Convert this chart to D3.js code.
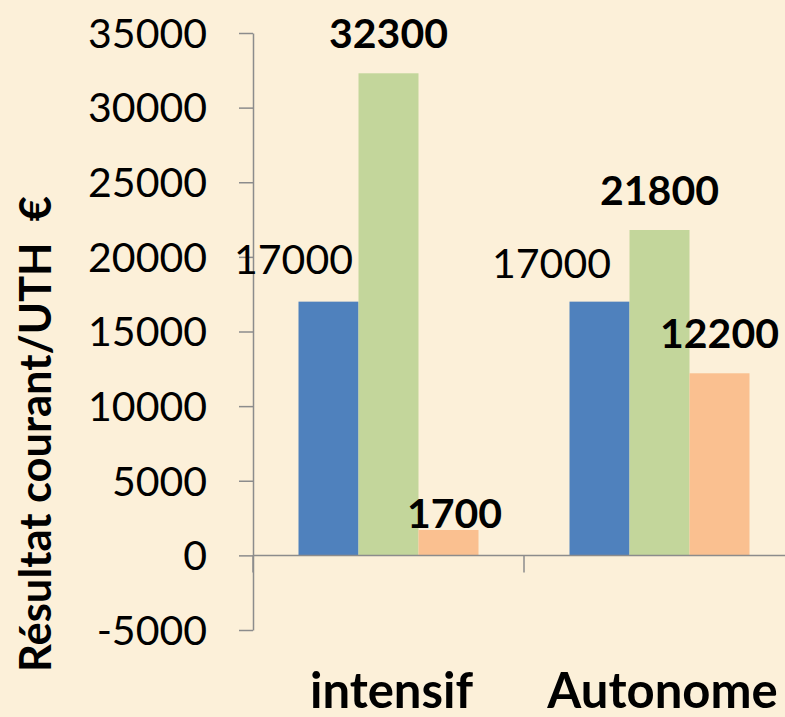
<!DOCTYPE html>
<html>
<head>
<meta charset="utf-8">
<script src="https://cdn.jsdelivr.net/npm/d3@7"></script>
<style>
  html, body { margin: 0; padding: 0; background: #fcf0d8; }
  svg { display: block; font-family: Lato, "Open Sans", sans-serif; }
</style>
</head>
<body>
<svg id="chart" width="785" height="717"></svg>
<script>
// data
var categories = ["intensif", "Autonome"];
var series = ["s1", "s2", "s3"];
var values = [
  [17000, 32300, 1700],   // intensif
  [17000, 21800, 12200]   // Autonome
];
var yTicks = [-5000, 0, 5000, 10000, 15000, 20000, 25000, 30000, 35000];
var yTitle = "Résultat courant/UTH  €";

var colors = ["#4f81bd", "#c3d69b", "#fac090"];
var boldLabel = [false, true, true];

var width = 785, height = 717;
var svg = d3.select("#chart");

svg.append("rect")
  .attr("width", width).attr("height", height)
  .attr("fill", "#fcf0d9");

var y = d3.scaleLinear().domain([-5000, 35000]).range([630, 33]);

// categories are 271px wide, starting at the axis
var x0 = d3.scaleBand().domain(categories).range([253, 795]).padding(0);
var x1 = d3.scaleBand().domain(series)
  .range([0, x0.bandwidth()])
  .paddingInner(0)
  .paddingOuter((x0.bandwidth() / 60 - 3) / 2);

var axisColor = "#8c8c8c";

// y axis
var yAxis = svg.append("g")
  .attr("transform", "translate(253,0)")
  .call(d3.axisLeft(y).tickValues(yTicks).tickSize(14).tickSizeOuter(0).tickPadding(32)
    .tickFormat(function (d) { return String(d); }));
yAxis.selectAll("path, line").attr("stroke", axisColor).attr("stroke-width", 1.5);
yAxis.selectAll("text")
  .attr("font-family", "Lato, sans-serif")
  .attr("font-size", 41)
  .attr("fill", "#000")
  .attr("dy", "0.35em");

// bars
var groups = svg.selectAll("g.cat")
  .data(categories)
  .enter().append("g")
  .attr("class", "cat")
  .attr("transform", function (d) { return "translate(" + x0(d) + ",0)"; });

groups.selectAll("rect")
  .data(function (d, i) { return values[i].map(function (v, j) { return { s: series[j], v: v, j: j }; }); })
  .enter().append("rect")
  .attr("x", function (d) { return x1(d.s); })
  .attr("width", x1.bandwidth())
  .attr("y", function (d) { return y(Math.max(0, d.v)); })
  .attr("height", function (d) { return Math.abs(y(d.v) - y(0)); })
  .attr("fill", function (d) { return colors[d.j]; });

// x axis along zero, ticks between categories
var zeroY = y(0);
svg.append("line")
  .attr("x1", 253).attr("x2", width)
  .attr("y1", zeroY).attr("y2", zeroY)
  .attr("stroke", axisColor).attr("stroke-width", 1.5);
svg.selectAll("line.xtick")
  .data(categories.concat(["end"]))
  .enter().append("line")
  .attr("class", "xtick")
  .attr("x1", function (d, i) { return 253 + i * x0.bandwidth(); })
  .attr("x2", function (d, i) { return 253 + i * x0.bandwidth(); })
  .attr("y1", zeroY).attr("y2", zeroY + 17)
  .attr("stroke", axisColor).attr("stroke-width", 1.5);

// category labels
svg.selectAll("text.cat")
  .data(categories)
  .enter().append("text")
  .attr("class", "cat")
  .attr("x", function (d) { return x0(d) + x0.bandwidth() / 2 + 3; })
  .attr("y", 708)
  .attr("text-anchor", "middle")
  .attr("font-size", 49)
  .attr("font-weight", "bold")
  .text(function (d) { return d; });

// value labels, some were dragged by hand in the original
var labelNudge = {
  "0-0": [-35, -3],
  "1-0": [-48, 1],
  "0-2": [6, 23]
};
categories.forEach(function (c, i) {
  values[i].forEach(function (v, j) {
    var n = labelNudge[i + "-" + j] || [0, 0];
    svg.append("text")
      .attr("x", x0(c) + x1(series[j]) + x1.bandwidth() / 2 + n[0])
      .attr("y", y(v) - 25 + n[1])
      .attr("text-anchor", "middle")
      .attr("font-size", 41)
      .attr("font-weight", boldLabel[j] ? "bold" : "normal")
      .text(v);
  });
});

// y title
svg.append("text")
  .attr("transform", "translate(51,434) rotate(-90)")
  .attr("text-anchor", "middle")
  .attr("font-size", 43.5)
  .attr("font-weight", "bold")
  .style("white-space", "pre")
  .text(yTitle);
</script>
</body>
</html>
